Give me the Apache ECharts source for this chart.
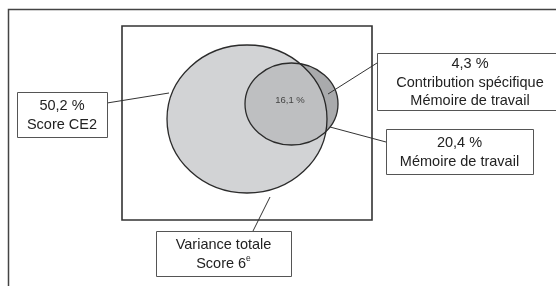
<!DOCTYPE html>
<html>
<head>
<meta charset="utf-8">
<script src="https://cdn.jsdelivr.net/npm/echarts@6/dist/echarts.min.js"></script>
<style>
  html, body { margin: 0; padding: 0; background: #fff; }
  #chart { width: 556px; height: 286px; }
</style>
</head>
<body>
<div id="chart"></div>
<script>
// parts of the variance of the 6e score
const parts = ['Score CE2', 'Contribution spécifique\nMémoire de travail', 'Mémoire de travail', 'Variance totale\nScore 6{sup|e}'];
const percents = [50.2, 4.3, 20.4, null];
const sharedPercent = 16.1;

// ellipses: [cx, cy, rx, ry] in chart units (= pixels here)
const ellipses = [
    [291.5, 104, 46.5, 41],   // memoire de travail, under layer
    [247, 119, 80, 74],       // score CE2 / variance totale
    [291.5, 104, 46.5, 41]    // memoire de travail, top layer
];
const ellipseStyle = [
    { fill: 'rgb(187,188,190)', stroke: null, lineWidth: 0 },
    { fill: 'rgb(210,211,213)', stroke: '#2b2b2b', lineWidth: 1.3 },
    { fill: 'rgba(0,0,0,0.095)', stroke: '#2b2b2b', lineWidth: 1.3 }
];

// callout boxes [x, y, w, h] and leader lines [x1, y1, x2, y2]
const boxes = [
    [17, 92, 90, 45],
    [377, 53, 186, 57],
    [386, 129, 147, 45],
    [156, 231, 135, 45]
];
const leaders = [
    [107, 103, 169, 93],
    [328, 94, 377, 63],
    [330, 127, 386, 142],
    [270, 197, 253, 231]
];

function fmt(v) {
    return v.toFixed(1).replace('.', ',') + ' %';
}

const font = "'Liberation Sans', Arial, sans-serif";

const chart = echarts.init(document.getElementById('chart'));

const option = {
    animation: false,
    backgroundColor: '#fff',
    grid: { left: 0, right: 0, top: 0, bottom: 0 },
    xAxis: { type: 'value', min: 0, max: 556, show: false },
    yAxis: { type: 'value', min: 0, max: 286, inverse: true, show: false },
    graphic: [
        {
            type: 'polyline',
            shape: { points: [[8.5, 300], [8.5, 9.5], [570, 9.5]] },
            style: { fill: null, stroke: '#444', lineWidth: 1.5 }
        },
        {
            type: 'rect',
            shape: { x: 122, y: 26, width: 250, height: 194 },
            style: { fill: null, stroke: '#333', lineWidth: 1.6 }
        }
    ],
    series: [
        {
            type: 'custom',
            name: 'venn',
            data: ellipses,
            renderItem: function (params, api) {
                const c = api.coord([api.value(0), api.value(1)]);
                const s = api.size([api.value(2), api.value(3)]);
                const st = ellipseStyle[params.dataIndex];
                return {
                    type: 'ellipse',
                    shape: { cx: c[0], cy: c[1], rx: s[0], ry: s[1] },
                    style: { fill: st.fill, stroke: st.stroke, lineWidth: st.lineWidth }
                };
            }
        },
        {
            type: 'custom',
            name: 'shared',
            data: [[290, 100]],
            renderItem: function (params, api) {
                const c = api.coord([api.value(0), api.value(1)]);
                return {
                    type: 'text',
                    x: c[0], y: c[1],
                    style: {
                        text: fmt(sharedPercent),
                        fontFamily: font, fontSize: 9.5, fill: '#444',
                        align: 'center', verticalAlign: 'middle'
                    }
                };
            }
        },
        {
            type: 'custom',
            name: 'callouts',
            data: boxes.map(function (b, i) { return b.concat(leaders[i]); }),
            renderItem: function (params, api) {
                const i = params.dataIndex;
                const p0 = api.coord([api.value(0), api.value(1)]);
                const sz = api.size([api.value(2), api.value(3)]);
                const l1 = api.coord([api.value(4), api.value(5)]);
                const l2 = api.coord([api.value(6), api.value(7)]);
                const txt = percents[i] == null ? parts[i] : fmt(percents[i]) + '\n' + parts[i];
                return {
                    type: 'group',
                    children: [
                        {
                            type: 'line',
                            shape: { x1: l1[0], y1: l1[1], x2: l2[0], y2: l2[1] },
                            style: { stroke: '#333', lineWidth: 1 }
                        },
                        {
                            type: 'rect',
                            shape: { x: p0[0] + 0.5, y: p0[1] + 0.5, width: sz[0], height: sz[1] },
                            style: { fill: '#fff', stroke: '#555', lineWidth: 1 }
                        },
                        {
                            type: 'text',
                            x: p0[0] + sz[0] / 2,
                            y: p0[1] + sz[1] / 2 + 1,
                            style: {
                                text: txt,
                                fontFamily: font, fontSize: 14.5, fill: '#222',
                                lineHeight: 18.3,
                                align: 'center', verticalAlign: 'middle',
                                rich: {
                                    sup: { fontFamily: font, fontSize: 8.5, fill: '#222', verticalAlign: 'top', lineHeight: 18.3, padding: [0, 0, 6, 0] }
                                }
                            }
                        }
                    ]
                };
            }
        }
    ]
};

chart.setOption(option);
</script>
</body>
</html>
